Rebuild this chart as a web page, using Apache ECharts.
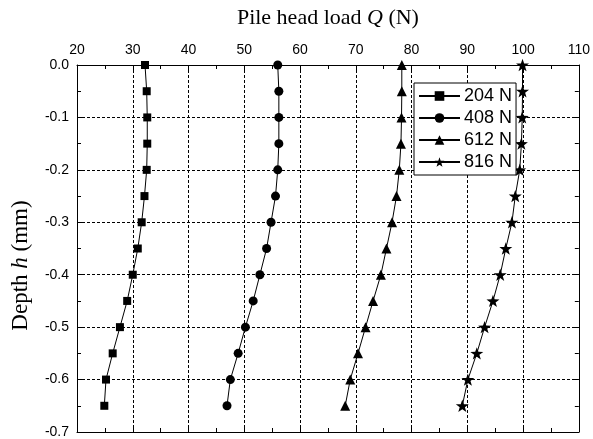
<!DOCTYPE html>
<html>
<head>
<meta charset="utf-8">
<script src="https://cdn.jsdelivr.net/npm/echarts@6/dist/echarts.min.js"></script>
<style>html,body{margin:0;padding:0;background:#fff;}#c{width:593px;height:439px;}</style>
</head>
<body>
<div id="c"></div>
<script>
var depth = [0, -0.05, -0.1, -0.15, -0.2, -0.25, -0.3, -0.35, -0.4, -0.45, -0.5, -0.55, -0.6, -0.65];
var q204 = [32.2, 32.5, 32.6, 32.6, 32.5, 32.1, 31.6, 30.9, 30.0, 29.0, 27.7, 26.4, 25.2, 24.9];
var q408 = [56.0, 56.2, 56.2, 56.2, 56.0, 55.6, 54.8, 54.0, 52.8, 51.6, 50.2, 48.9, 47.5, 46.9];
var q612 = [78.25, 78.25, 78.2, 78.1, 77.8, 77.3, 76.5, 75.5, 74.5, 73.1, 71.75, 70.4, 69.0, 68.1];
var q816 = [99.9, 99.9, 99.85, 99.7, 99.4, 98.6, 98.0, 96.9, 95.9, 94.6, 93.1, 91.7, 90.1, 89.1];
var seriesNames = ['204 N', '408 N', '612 N', '816 N'];

var SANS = "'Liberation Sans', Arial, sans-serif";
var SERIF = "'Liberation Serif', 'Times New Roman', serif";
var STAR = 'path://M0,-10 L2.35,-3.24 L9.51,-3.09 L3.8,1.24 L5.88,8.09 L0,4 L-5.88,8.09 L-3.8,1.24 L-9.51,-3.09 L-2.35,-3.24 Z';

function pairs(xs) { return xs.map(function (v, i) { return [v, depth[i]]; }); }

var lineAxis = { show: true, onZero: false, lineStyle: { color: '#000', width: 1 } };
var tick = { show: true, inside: true, length: 6, lineStyle: { color: '#000', width: 1 } };
var minor = { show: true, splitNumber: 2, length: 4, lineStyle: { color: '#000', width: 1 } };
var dashGrid = { show: true, lineStyle: { color: '#000', width: 1, type: [3, 2] } };

function mk(name, data, symbol, size) {
  return {
    name: name, type: 'line', data: pairs(data), symbol: symbol, symbolSize: size,
    symbolKeepAspect: true,
    lineStyle: { color: '#000', width: 1 }, itemStyle: { color: '#000' },
    showAllSymbol: true, animation: false
  };
}

var chart = echarts.init(document.getElementById('c'));
chart.setOption({
  animation: false,
  backgroundColor: '#fff',
  grid: { left: 77, right: 12, top: 65, bottom: 3 },
  legend: {
    orient: 'vertical', left: 414, top: 83,
    data: seriesNames,
    itemWidth: 41, itemHeight: 12, itemGap: 4,
    padding: [4, 4, 4, 4],
    borderColor: '#000', borderWidth: 1, borderRadius: 0, backgroundColor: '#fff',
    textStyle: { fontFamily: SANS, fontSize: 18, color: '#000', lineHeight: 18, padding: [0, 0, 0, -1] }
  },
  xAxis: [{
    type: 'value', position: 'top', min: 20, max: 110, interval: 10,
    name: 'Pile head load {i|Q} (N)', nameLocation: 'middle', nameGap: 36,
    nameTextStyle: { fontFamily: SERIF, fontSize: 22, color: '#000',
      rich: { i: { fontFamily: SERIF, fontSize: 22, fontStyle: 'italic', color: '#000' } } },
    axisLine: lineAxis, axisTick: tick, minorTick: minor, splitLine: dashGrid,
    axisLabel: { fontFamily: SANS, fontSize: 14, color: '#000', margin: 8 }
  }, {
    type: 'value', position: 'bottom', min: 20, max: 110, interval: 10,
    axisLine: lineAxis, axisTick: tick, minorTick: minor, splitLine: { show: false },
    axisLabel: { show: false }
  }],
  yAxis: [{
    type: 'value', position: 'left', min: -0.7, max: 0, interval: 0.1,
    name: 'Depth {i|h} (mm)', nameLocation: 'middle', nameGap: 45, nameRotate: 90,
    nameTextStyle: { fontFamily: SERIF, fontSize: 23, color: '#000', padding: [0, 34, 0, 0],
      rich: { i: { fontFamily: SERIF, fontSize: 23, fontStyle: 'italic', color: '#000' } } },
    axisLine: lineAxis, axisTick: tick, minorTick: minor, splitLine: dashGrid,
    axisLabel: { fontFamily: SANS, fontSize: 14, color: '#000', margin: 8,
      formatter: function (v) { return v.toFixed(1); } }
  }, {
    type: 'value', position: 'right', min: -0.7, max: 0, interval: 0.1,
    axisLine: lineAxis, axisTick: tick, minorTick: minor, splitLine: { show: false },
    axisLabel: { show: false }
  }],
  series: [
    mk(seriesNames[0], q204, 'rect', 8),
    mk(seriesNames[1], q408, 'circle', 9),
    mk(seriesNames[2], q612, 'triangle', 10),
    mk(seriesNames[3], q816, STAR, 13)
  ]
});
</script>
</body>
</html>
